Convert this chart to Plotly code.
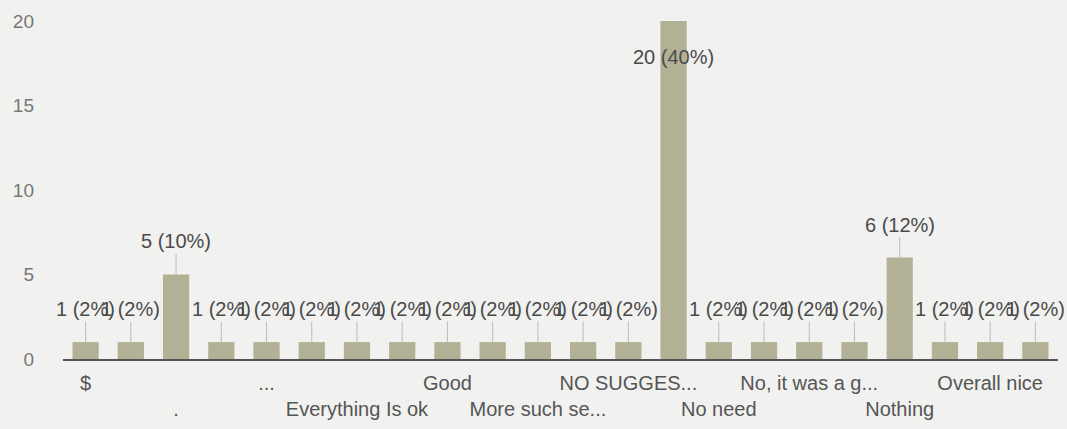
import plotly.graph_objects as go

# Data
tick_labels = ["$", "", ".", "", "...", "", "Everything Is ok", "", "Good", "",
               "More such se...", "", "NO SUGGES...", "", "No need", "",
               "No, it was a g...", "", "Nothing", "", "Overall nice", ""]
counts = [1, 1, 5, 1, 1, 1, 1, 1, 1, 1, 1, 1, 1, 20, 1, 1, 1, 1, 6, 1, 1, 1]

total = sum(counts)
positions = list(range(len(counts)))
labels = [f"{c} ({round(100 * c / total)}%)" for c in counts]

# alternate tick label rows
ticktext = []
row = 0
for t in tick_labels:
    if t == "":
        ticktext.append("")
    else:
        ticktext.append(t if row == 0 else "<br>" + t)
        row = 1 - row

BG = "#f1f1f0"
BAR = "#b3b195"
TXT = "#4a4a4a"
FONT = "Liberation Sans, Arial, sans-serif"

fig = go.Figure()
fig.add_trace(go.Bar(x=positions, y=counts, marker=dict(color=BAR, line=dict(width=0)),
                     hoverinfo="skip"))

ymax = max(counts)
for x, c, lab in zip(positions, counts, labels):
    if c == ymax:
        fig.add_annotation(x=x, y=c, text=lab, showarrow=False, yshift=-36,
                           font=dict(family=FONT, size=20, color=TXT))
    else:
        fig.add_annotation(x=x, y=c, text=lab, showarrow=True, arrowhead=0,
                           arrowwidth=1, arrowcolor="#bdbdbd", ax=0, ay=-33,
                           font=dict(family=FONT, size=20, color=TXT))

fig.update_layout(
    width=1067, height=429,
    margin=dict(l=63, r=9, t=4, b=70),
    paper_bgcolor=BG, plot_bgcolor=BG,
    bargap=0.42, showlegend=False,
    font=dict(family=FONT, size=19, color="#666"),
)
fig.update_xaxes(range=[-0.5, len(counts) - 0.5], tickmode="array",
                 tickvals=positions, ticktext=ticktext, ticks="", tickangle=0,
                 ticklabelstandoff=5,
                 showline=True, linecolor="#555", linewidth=2,
                 showgrid=False, zeroline=False,
                 tickfont=dict(family=FONT, size=20, color="#555"))
fig.update_yaxes(range=[0, 21], tickvals=[0, 5, 10, 15, 20], showgrid=False,
                 zeroline=False, showline=False, ticks="", ticklabelstandoff=28,
                 tickfont=dict(family=FONT, size=19, color="#777"))

fig.write_html("out.html", config={"displayModeBar": False},
               post_script="document.body.style.margin='0';"
                           "document.body.style.background='" + BG + "';")
